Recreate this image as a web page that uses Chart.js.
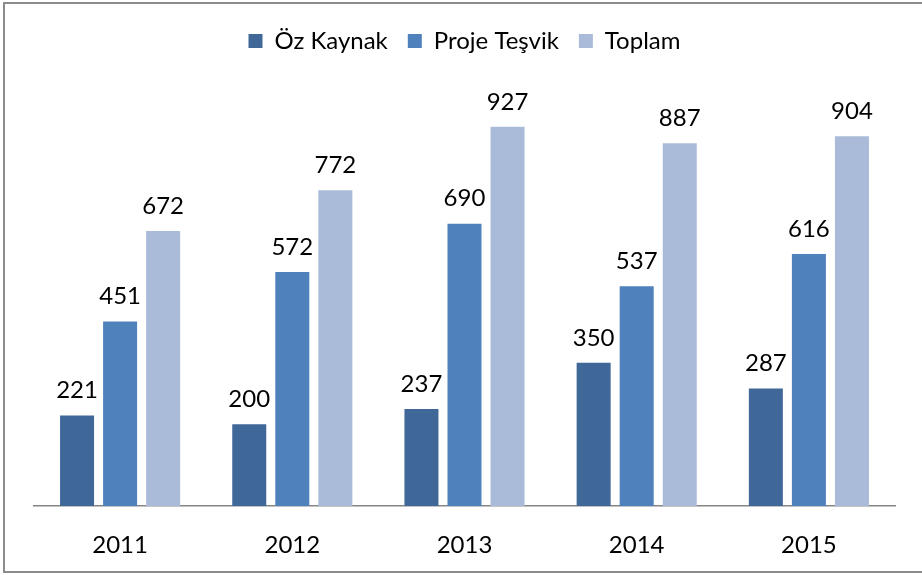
<!DOCTYPE html>
<html>
<head>
<meta charset="utf-8">
<script src="https://cdn.jsdelivr.net/npm/chart.js@4"></script>
<style>
  body { margin: 0; background: #fff; }
  #wrap { width: 922px; height: 575px; }
</style>
</head>
<body>
<div id="wrap"><canvas id="myChart" width="922" height="575"></canvas></div>
<script>
const years = ["2011", "2012", "2013", "2014", "2015"];
const ozKaynak = [221, 200, 237, 350, 287];
const projeTesvik = [451, 572, 690, 537, 616];
const toplam = [672, 772, 927, 887, 904];

const FONT = "Lato, 'Open Sans', sans-serif";

// frame around the whole chart
const framePlugin = {
  id: "frame",
  afterDraw(chart) {
    const ctx = chart.ctx;
    ctx.save();
    ctx.strokeStyle = "#8c8c8c";
    ctx.lineWidth = 2;
    ctx.strokeRect(4, 3, 930, 569);
    ctx.restore();
  },
};

// value labels on top of each bar
const valueLabels = {
  id: "valueLabels",
  afterDatasetsDraw(chart) {
    const ctx = chart.ctx;
    ctx.save();
    ctx.font = "24px " + FONT;
    ctx.fillStyle = "#000";
    ctx.textAlign = "center";
    ctx.textBaseline = "bottom";
    chart.data.datasets.forEach((ds, i) => {
      chart.getDatasetMeta(i).data.forEach((bar, j) => {
        ctx.fillText(ds.data[j], bar.x, bar.y - 13);
      });
    });
    ctx.restore();
  },
};

const myChart = new Chart("myChart", {
  type: "bar",
  data: {
    labels: years,
    datasets: [
      { label: "Öz Kaynak", data: ozKaynak, backgroundColor: "#3F6898" },
      { label: "Proje Teşvik", data: projeTesvik, backgroundColor: "#4F81BD" },
      { label: "Toplam", data: toplam, backgroundColor: "#AABBD9" },
    ],
  },
  options: {
    responsive: false,
    animation: false,
    categoryPercentage: 0.75,
    barPercentage: 0.79,
    layout: {
      padding: { top: 9, left: 34, right: 27, bottom: 0 },
    },
    scales: {
      y: {
        display: false,
        min: 0,
        max: 1083,
      },
      x: {
        grid: { display: false, drawTicks: false },
        border: { display: true, color: "#868686", width: 1.5 },
        ticks: {
          padding: 25,
          color: "#000",
          font: { family: FONT, size: 24 },
        },
        afterFit(scale) {
          scale.height = 69;
        },
      },
    },
    plugins: {
      legend: {
        position: "top",
        labels: {
          boxWidth: 14,
          boxHeight: 14,
          padding: 20,
          color: "#000",
          font: { family: FONT, size: 24 },
        },
      },
      tooltip: { enabled: false },
    },
  },
  plugins: [framePlugin, valueLabels],
});
</script>
</body>
</html>
